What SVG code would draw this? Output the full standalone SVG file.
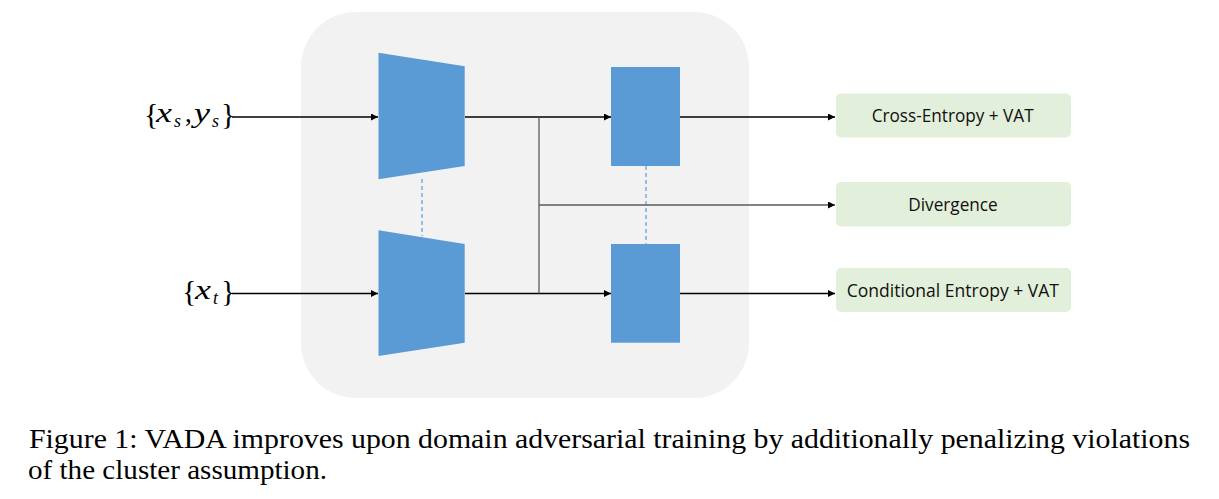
<svg xmlns="http://www.w3.org/2000/svg" width="1219" height="499" viewBox="0 0 1219 499">
<style>
.blk{fill:#5b9bd5;}
.out{fill:#e2efda;}
.lbl{font-family:"Open Sans","Liberation Sans",sans-serif;font-size:18px;fill:#111;}
.m{font-family:"Liberation Serif","DejaVu Serif",serif;fill:#000;}
.mi{font-family:"Liberation Serif","DejaVu Serif",serif;font-style:italic;fill:#000;}
.cap{font-family:"Liberation Serif",serif;font-size:27px;fill:#000;}
.ln{stroke:#000;stroke-width:1.3;fill:none;}
.gl{stroke:#5a5a5a;stroke-width:1.3;fill:none;}
.dash{stroke:#5b9bd5;stroke-width:1.2;stroke-dasharray:4,3;fill:none;}
</style>
<defs>
<marker id="ah" viewBox="0 0 10 10" refX="10" refY="5" markerWidth="8" markerHeight="7" markerUnits="userSpaceOnUse" orient="auto">
<path d="M0,0 L10,5 L0,10 z" fill="#000"/>
</marker>
</defs>
<rect id="bg" x="301" y="12" width="448" height="386" rx="55" fill="#f2f2f2"/>
<g id="dashes">
<line class="dash" x1="422" y1="179" x2="422" y2="236"/>
<line class="dash" x1="646" y1="166" x2="646" y2="244"/>
</g>
<g id="enc_s"><polygon class="blk" points="378.5,52.7 464.7,66.3 464.7,166 378.5,179.3"/></g>
<g id="enc_t"><polygon class="blk" points="378.5,230.3 464.7,244 464.7,342.7 378.5,356"/></g>
<g id="cls_s"><rect class="blk" x="611" y="67" width="69" height="99"/></g>
<g id="cls_t"><rect class="blk" x="611" y="244" width="69" height="98.7"/></g>
<g id="out_ce"><rect class="out" x="836" y="93.5" width="235" height="44" rx="5"/><text class="lbl" x="871.7" y="121.7" textLength="162" lengthAdjust="spacingAndGlyphs">Cross-Entropy + VAT</text></g>
<g id="out_div"><rect class="out" x="836" y="182" width="235" height="44.5" rx="5"/><text class="lbl" x="908.3" y="211" textLength="89.4" lengthAdjust="spacingAndGlyphs">Divergence</text></g>
<g id="out_ent"><rect class="out" x="836" y="268" width="235" height="44" rx="5"/><text class="lbl" x="846.7" y="296.7" textLength="212.3" lengthAdjust="spacingAndGlyphs">Conditional Entropy + VAT</text></g>
<g id="in_s">
<text class="m" x="144" y="124" font-size="30">{</text>
<text class="mi" x="156" y="122" font-size="27" textLength="16" lengthAdjust="spacingAndGlyphs">x</text>
<text class="mi" x="174" y="127" font-size="18">s</text>
<text class="m" x="185" y="122" font-size="27">,</text>
<text class="mi" x="194" y="122" font-size="27" textLength="16" lengthAdjust="spacingAndGlyphs">y</text>
<text class="mi" x="212" y="127" font-size="18">s</text>
<text class="m" x="221" y="124" font-size="30">}</text>
</g>
<g id="in_t">
<text class="m" x="182" y="301" font-size="30">{</text>
<text class="mi" x="195" y="299" font-size="27" textLength="16" lengthAdjust="spacingAndGlyphs">x</text>
<text class="mi" x="213" y="304" font-size="18">t</text>
<text class="m" x="221" y="301" font-size="30">}</text>
</g>
<g id="connectors">
<line class="ln" x1="232" y1="117" x2="378" y2="117" marker-end="url(#ah)"/>
<line class="ln" x1="232" y1="293.5" x2="378" y2="293.5" marker-end="url(#ah)"/>
<line class="ln" x1="465" y1="117" x2="611" y2="117" marker-end="url(#ah)"/>
<line class="ln" x1="465" y1="293.5" x2="611" y2="293.5" marker-end="url(#ah)"/>
<line class="gl" x1="539" y1="117" x2="539" y2="293.5"/>
<line class="gl" x1="539" y1="205" x2="835" y2="205" marker-end="url(#ah)"/>
<line class="ln" x1="680" y1="117" x2="835" y2="117" marker-end="url(#ah)"/>
<line class="ln" x1="680" y1="293.5" x2="835" y2="293.5" marker-end="url(#ah)"/>
</g>
<g id="caption">
<text class="cap" x="29" y="448" textLength="1161" lengthAdjust="spacingAndGlyphs">Figure 1: VADA improves upon domain adversarial training by additionally penalizing violations</text>
<text class="cap" x="28" y="479" textLength="299" lengthAdjust="spacingAndGlyphs">of the cluster assumption.</text>
</g>
</svg>
